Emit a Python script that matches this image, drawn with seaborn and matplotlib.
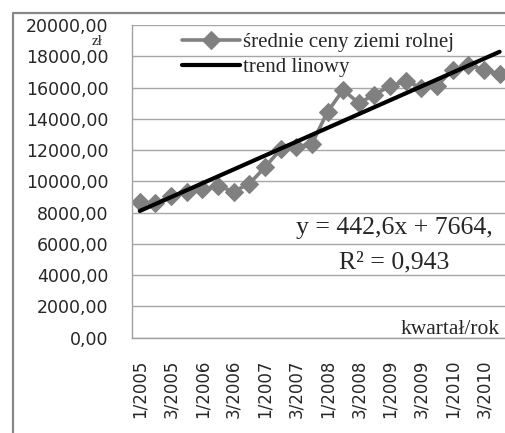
import numpy as np
import seaborn as sns
import matplotlib.pyplot as plt
from matplotlib.lines import Line2D
from matplotlib.ticker import FixedLocator, FuncFormatter

# kwartały 1/2005 .. 4/2010
quarters = [f"{q}/{y}" for y in range(2005, 2011) for q in range(1, 5)]
# średnie ceny ziemi rolnej [zł/ha]
prices = [8650, 8600, 9050, 9300, 9500, 9700, 9350, 9850,
          10900, 12050, 12200, 12400, 14450, 15850, 15000, 15550,
          16100, 16400, 16000, 16100, 17150, 17450, 17150, 16850]
# linia trendu: y = a*x + b, x = 1..24
trend_a = 442.6
trend_b = 7664

sns.set_style("white")
serif = ["Liberation Serif", "DejaVu Serif"]
sans = ["DejaVu Sans"]

fig = plt.figure(figsize=(5.06, 4.33), dpi=100)
W, H = 506, 433
ax = fig.add_axes([132 / W, 1 - 337.7 / H, 374 / W, (337.7 - 25) / H])

idx = np.arange(len(quarters))
trend = trend_a * (idx + 1) + trend_b

sns.lineplot(x=idx, y=prices, ax=ax, color="#808080", lw=2.6, marker="D",
             markersize=9.5, markeredgecolor="#808080", label="średnie ceny ziemi rolnej")
sns.lineplot(x=idx, y=trend, ax=ax, color="black", lw=3, label="trend linowy")

ax.set_xlim(-0.5, 23.41)
ax.set_ylim(0, 20000)
ax.set_yticks(np.arange(0, 20001, 2000))
ax.yaxis.set_major_formatter(FuncFormatter(lambda v, p: f"{v:.2f}".replace(".", ",")))
ax.set_xticks(idx[::2])
ax.set_xticklabels(quarters[::2], rotation=90)
ax.xaxis.set_minor_locator(FixedLocator(np.arange(-0.5, 24, 1)))
ax.tick_params(axis="x", which="major", length=0, pad=16, labelsize=12)
ax.tick_params(axis="x", which="minor", length=4, color="#a0a0a0", width=1)
ax.tick_params(axis="y", length=4, color="#a0a0a0", width=1, pad=13, labelsize=12.5)
for lab in ax.get_xticklabels() + ax.get_yticklabels():
    lab.set_family(sans)

ax.yaxis.grid(True, color="#a6a6a6", lw=1)
ax.xaxis.grid(False)
for s in ["top", "right"]:
    ax.spines[s].set_visible(False)
for s in ["left", "bottom"]:
    ax.spines[s].set_color("#a0a0a0")
    ax.spines[s].set_linewidth(1)
ax.set_xlabel("")
ax.set_ylabel("")

leg = ax.legend(loc="upper left", bbox_to_anchor=(31 / 374, 1.035), frameon=False,
                handlelength=2.8, handletextpad=0.15, labelspacing=0.25,
                prop={"family": serif, "size": 15})

fig.text(97 / W, 1 - 41.5 / H, "zł", family=serif, fontsize=11, ha="center", va="center")
fig.text(394 / W, 1 - 228 / H, "y = 442,6x + 7664,", family=serif, fontsize=18.5,
         ha="center", va="center")
fig.text(394 / W, 1 - 262 / H, "R² = 0,943", family=serif, fontsize=18.5,
         ha="center", va="center")
fig.text(500 / W, 1 - 329 / H, "kwartał/rok", family=serif, fontsize=15.5,
         ha="right", va="center")

# ramka obszaru wykresu
fig.add_artist(Line2D([13 / W, 13 / W, 1.02], [-0.02, 1 - 13 / H, 1 - 13 / H],
                      transform=fig.transFigure, color="#888888", lw=1.6))

fig.savefig("out.png", dpi=100)
